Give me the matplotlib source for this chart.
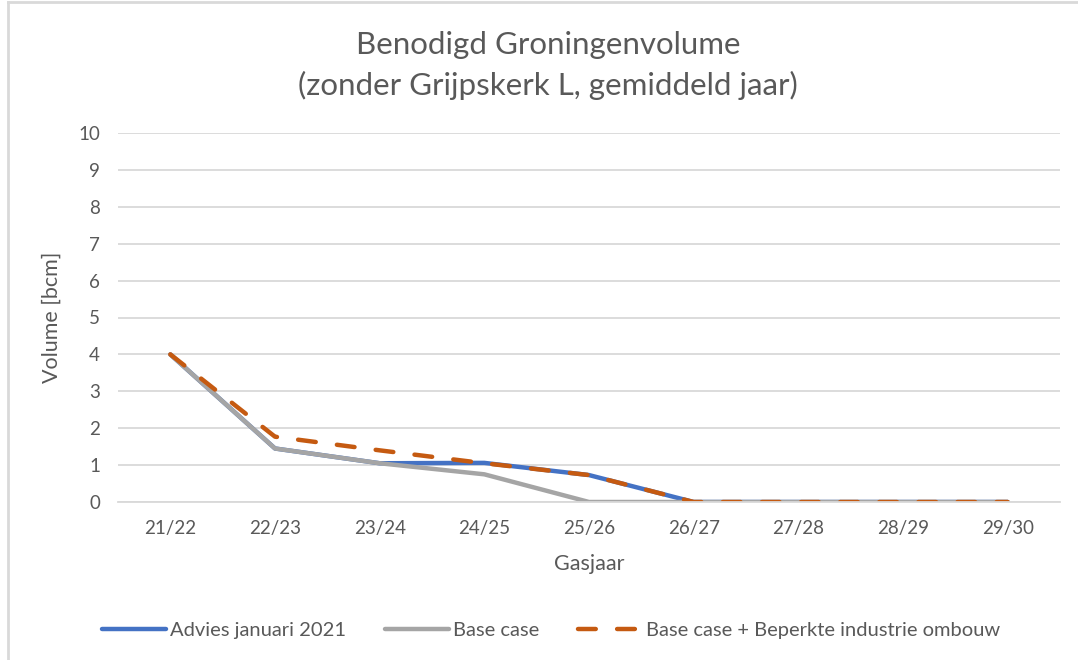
import matplotlib.pyplot as plt
from matplotlib.lines import Line2D

plt.rcParams['font.family'] = ['Lato', 'DejaVu Sans']

gasjaren = ['21/22', '22/23', '23/24', '24/25', '25/26', '26/27', '27/28', '28/29', '29/30']
advies_jan_2021 = [4.0, 1.45, 1.05, 1.06, 0.73, 0, 0, 0, 0]
base_case = [4.0, 1.45, 1.05, 0.75, 0, 0, 0, 0, 0]
base_beperkt = [4.0, 1.77, 1.40, 1.05, 0.73, 0, 0, 0, 0]
y_ticks = list(range(0, 11))

W, H = 1078, 660
fig = plt.figure(figsize=(W / 100, H / 100), dpi=100, facecolor='white')
ax = fig.add_axes([118 / W, 1 - 502 / H, (1060 - 118) / W, (502 - 133) / H])

x = list(range(len(gasjaren)))
lw = 3.2
ax.plot(x, advies_jan_2021, color='#4472C4', lw=lw, solid_capstyle='round',
        label='Advies januari 2021')
ax.plot(x, base_case, color='#A5A5A5', lw=lw, solid_capstyle='round',
        label='Base case')
ax.plot(x, base_beperkt, color='#C55A11', lw=lw, dashes=(4.0, 4.8),
        dash_capstyle='round', label='Base case + Beperkte industrie ombouw')

ax.set_xlim(-0.5, len(gasjaren) - 0.5)
ax.set_ylim(0, 10)
ax.set_yticks(y_ticks)
ax.set_xticks(x)
ax.set_xticklabels(gasjaren)
ax.tick_params(length=0, labelsize=13.5, labelcolor='#595959')
ax.tick_params(axis='y', pad=13)
ax.tick_params(axis='x', pad=13)
ax.grid(axis='y', color='#D9D9D9', lw=1.3)
ax.set_axisbelow(True)
for s in ['top', 'right', 'left']:
    ax.spines[s].set_visible(False)
ax.spines['bottom'].set_color('#D9D9D9')
ax.spines['bottom'].set_linewidth(1.3)

ax.set_xlabel('Gasjaar', fontsize=15.5, color='#595959', labelpad=12)
ax.set_ylabel('Volume [bcm]', fontsize=15.5, color='#595959', labelpad=12)

fig.text(548 / W, 1 - 45 / H, 'Benodigd Groningenvolume', ha='center', va='center',
         fontsize=22.5, color='#595959')
fig.text(548 / W, 1 - 85 / H, '(zonder Grijpskerk L, gemiddeld jaar)', ha='center',
         va='center', fontsize=22.5, color='#595959')

fig.legend(loc='center', bbox_to_anchor=(551 / W, 1 - 630 / H), ncol=3, frameon=False,
           fontsize=14.5, labelcolor='#595959', handlelength=3.2, columnspacing=1.9,
           handletextpad=0.2)

# chart frame
fig.add_artist(Line2D([8 / W, 8 / W], [0, 1 - 2 / H], transform=fig.transFigure,
                      color='#D9D9D9', lw=2))
fig.add_artist(Line2D([8 / W, 1], [1 - 2 / H, 1 - 2 / H], transform=fig.transFigure,
                      color='#D9D9D9', lw=2))

fig.savefig('out.png', dpi=100, facecolor='white')
